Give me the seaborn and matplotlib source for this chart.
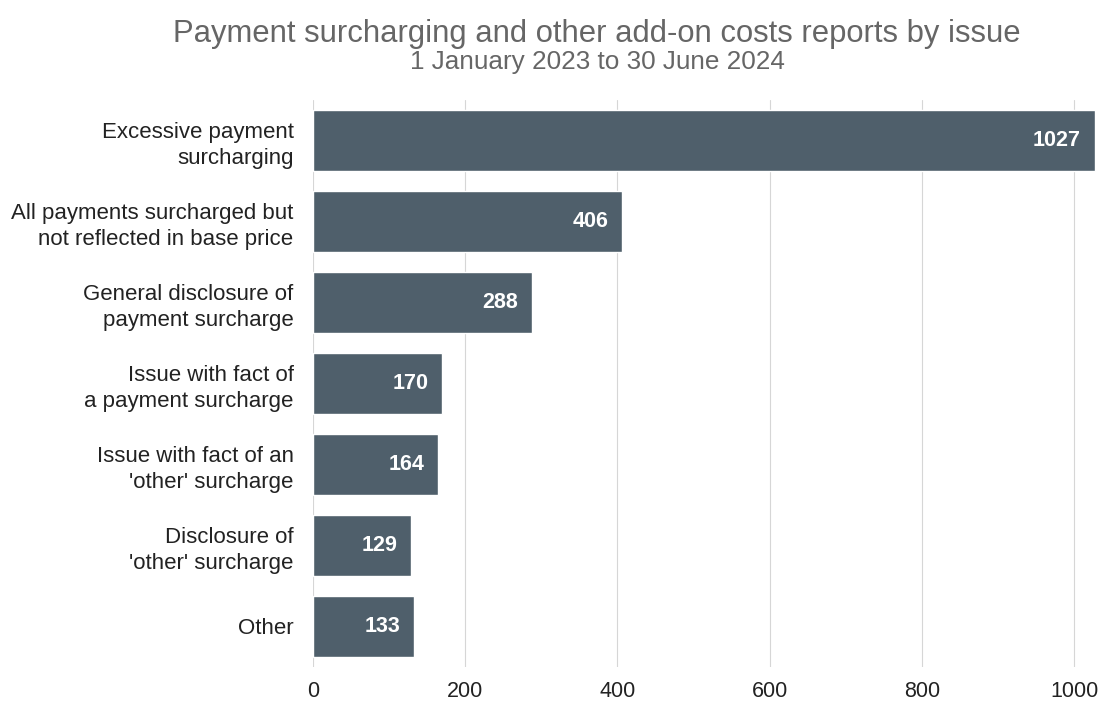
import matplotlib
matplotlib.use("Agg")
import matplotlib.pyplot as plt
import seaborn as sns
import pandas as pd

categories = [
    "Excessive payment\nsurcharging",
    "All payments surcharged but\nnot reflected in base price",
    "General disclosure of\npayment surcharge",
    "Issue with fact of\na payment surcharge",
    "Issue with fact of an\n'other' surcharge",
    "Disclosure of\n'other' surcharge",
    "Other",
]
values = [1027, 406, 288, 170, 164, 129, 133]
x_ticks = [0, 200, 400, 600, 800, 1000]

sns.set_theme(style="white")
plt.rcParams['font.family'] = ['Liberation Sans', 'DejaVu Sans']

df = pd.DataFrame({"issue": categories, "count": values})

fig = plt.figure(figsize=(11, 7.02), dpi=100)
ax = fig.add_axes([0.2845, 0.05, 0.7127, 0.8075])
bar_color = "#4f5f6b"
sns.barplot(data=df, x="count", y="issue", orient="h", color=bar_color,
            width=0.75, saturation=1, ax=ax, zorder=3)

ax.set_xlim(0, 1030)
ax.set_xticks(x_ticks)
ax.set_xticklabels([str(t) for t in x_ticks], fontsize=15.5, color="#222222")
ax.tick_params(axis="y", labelsize=16, labelcolor="#222222", length=0, pad=14)
ax.tick_params(axis="x", length=0, pad=10)
for lab in ax.get_yticklabels():
    lab.set_horizontalalignment("right")
    lab.set_multialignment("right")
    lab.set_linespacing(1.3)
ax.set_xlabel("")
ax.set_ylabel("")
ax.grid(axis="x", color="#d6d6d6", linewidth=0.8, zorder=0)
for s in ax.spines.values():
    s.set_visible(False)

for i, v in enumerate(values):
    ax.text(v - 18, i, str(v), ha="right", va="center", color="white",
            fontsize=15.5, fontweight="bold", zorder=4)

fig.text(0.543, 0.952, "Payment surcharging and other add-on costs reports by issue",
         ha="center", va="center", fontsize=22.3, color="#666666")
fig.text(0.543, 0.912, "1 January 2023 to 30 June 2024",
         ha="center", va="center", fontsize=18.8, color="#666666")

fig.savefig("out.png", dpi=100)
